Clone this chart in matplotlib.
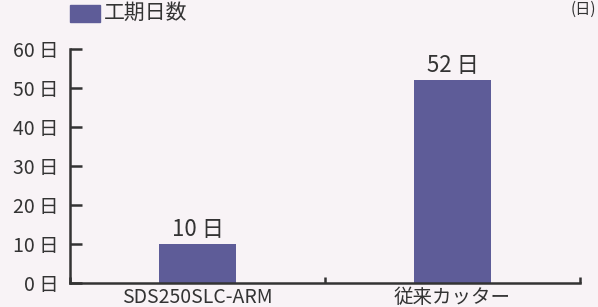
import matplotlib
matplotlib.use('Agg')
import matplotlib.pyplot as plt
from matplotlib.patches import Rectangle

plt.rcParams['font.family'] = ['Noto Sans CJK JP', 'DejaVu Sans']

categories = ['SDS250SLC-ARM', '従来カッター']
days = [10, 52]
value_labels = ['10 日', '52 日']
y_ticks = [0, 10, 20, 30, 40, 50, 60]
y_ticklabels = ['0 日', '10 日', '20 日', '30 日', '40 日', '50 日', '60 日']
legend_label = '工期日数'
unit_label = '(日)'

BG = '#f8f3f6'
BAR = '#5e5c98'
INK = '#333333'

fig = plt.figure(figsize=(5.98, 3.07), dpi=100, facecolor=BG)
ax = fig.add_axes([70 / 598, 24 / 307, 510 / 598, 234 / 307])
ax.set_facecolor(BG)

x = [0, 1]
ax.bar(x, days, width=0.3, color=BAR, zorder=2)
for xi, v, lab in zip(x, days, value_labels):
    ax.text(xi, v + 0.8, lab, ha='center', va='bottom', fontsize=16, color=INK)

ax.set_xlim(-0.5, 1.5)
ax.set_ylim(0, 60)
ax.set_yticks(y_ticks)
ax.set_yticklabels(y_ticklabels, fontsize=14, color=INK)
ax.set_xticks([-0.5, 0.5, 1.5])
ax.set_xticklabels([])
ax.tick_params(axis='y', direction='in', length=8.5, width=1.8, color=INK, pad=8)
ax.tick_params(axis='x', direction='in', length=4, width=1.8, color=INK)
for xi, c in zip(x, categories):
    ax.text(xi, -1.0, c, ha='center', va='top', fontsize=14, color=INK,
            family=['Liberation Sans Narrow', 'Noto Sans CJK JP'])

for s in ['top', 'right']:
    ax.spines[s].set_visible(False)
for s in ['left', 'bottom']:
    ax.spines[s].set_color(INK)
    ax.spines[s].set_linewidth(1.8)

# legend at top-left
fig.patches.append(Rectangle((70 / 598, 1 - 22 / 307), 30 / 598, 17 / 307,
                             transform=fig.transFigure, color=BAR))
fig.text(104 / 598, 1 - 13 / 307, legend_label, fontsize=15, color=INK, va='center')
fig.text(596 / 598, 1 - 1 / 307, unit_label, fontsize=11, color=INK, va='top', ha='right')

fig.savefig('out.png', dpi=100, facecolor=BG)
